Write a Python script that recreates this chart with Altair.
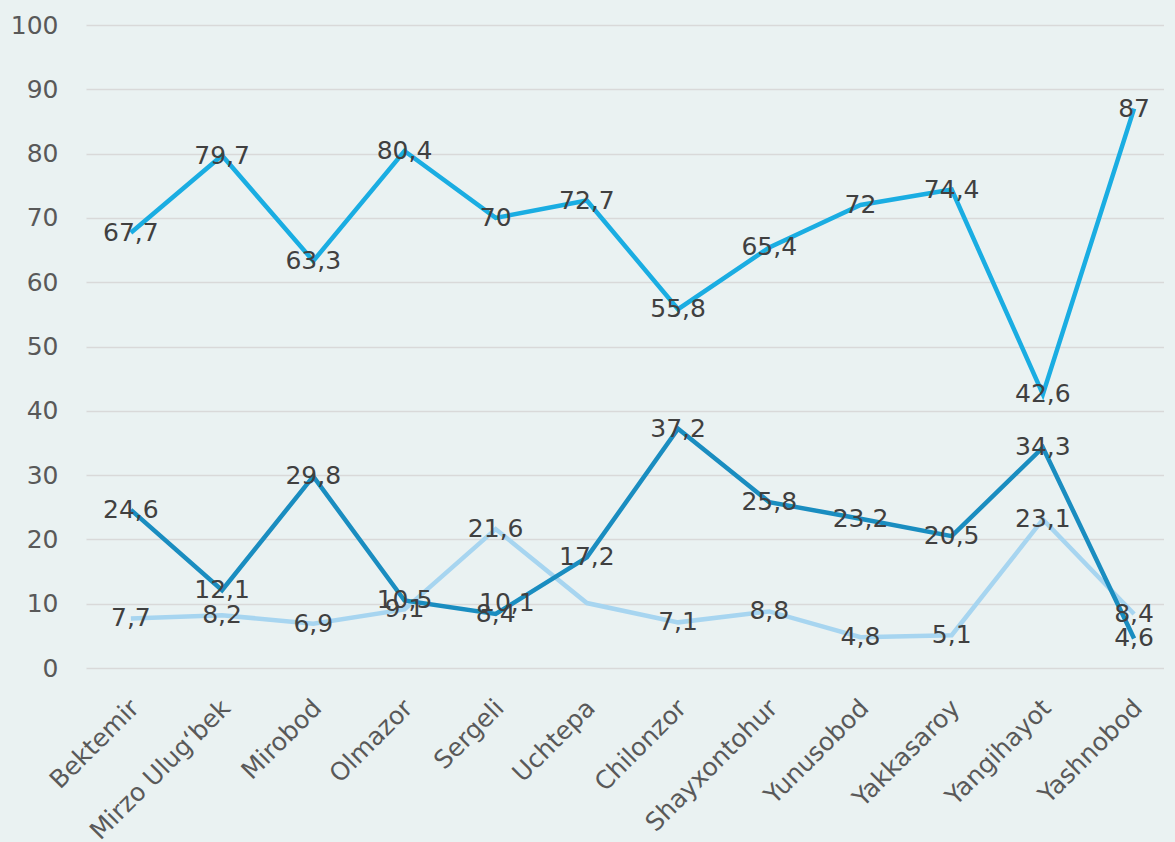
import altair as alt
import pandas as pd

districts = ["Bektemir", "Mirzo Ulug‘bek", "Mirobod", "Olmazor", "Sergeli", "Uchtepa",
             "Chilonzor", "Shayxontohur", "Yunusobod", "Yakkasaroy", "Yangihayot", "Yashnobod"]
series_a = [67.7, 79.7, 63.3, 80.4, 70, 72.7, 55.8, 65.4, 72, 74.4, 42.6, 87]
series_b = [24.6, 12.1, 29.8, 10.5, 8.4, 17.2, 37.2, 25.8, 23.2, 20.5, 34.3, 4.6]
series_c = [7.7, 8.2, 6.9, 9.1, 21.6, 10.1, 7.1, 8.8, 4.8, 5.1, 23.1, 8.4]
series_names = ["A", "C", "B"]
series_colors = ["#1AADE2", "#A7D5F0", "#1A8DC0"]

rows = []
for name, vals in (("A", series_a), ("C", series_c), ("B", series_b)):
    for i, (d, v) in enumerate(zip(districts, vals)):
        rows.append({"district": d, "series": name, "value": v, "idx": i})
df = pd.DataFrame(rows)

FONT = "DejaVu Sans"
bg = "#EAF2F2"

x = alt.X("district:N", sort=districts, title=None,
          scale=alt.Scale(type="point", padding=0.41, align=0.6),
          axis=alt.Axis(labelAngle=-45, labelFontSize=25, labelColor="#595959",
                        labelFont=FONT, ticks=False, domain=False, grid=False,
                        labelPadding=27, labelOffset=-5, labelOverlap=False,
                        labelLimit=400))
y = alt.Y("value:Q", title=None,
          scale=alt.Scale(domain=[0, 100], nice=False),
          axis=alt.Axis(values=list(range(0, 101, 10)), labelFontSize=25,
                        labelColor="#595959", labelFont=FONT, ticks=False,
                        domain=False, gridColor="#D9D9D9", gridWidth=1.5,
                        labelPadding=28))
color = alt.Color("series:N", scale=alt.Scale(domain=series_names, range=series_colors),
                  legend=None)

lines = alt.Chart(df).mark_line(strokeWidth=4.5).encode(
    x=x, y=y, color=color, order="idx:Q", detail="series:N"
)

labtxt = "replace(format(datum.value, '.1~f'), '.', ',')"
labels = alt.Chart(df).transform_filter(
    "!(datum.series == 'C' && datum.district == 'Uchtepa')"
).transform_calculate(txt=labtxt).mark_text(
    font=FONT, fontSize=25, color="#404040", baseline="middle", align="center"
).encode(x=x, y=y, text="txt:N")

moved = alt.Chart(df).transform_filter(
    "datum.series == 'C' && datum.district == 'Uchtepa'"
).transform_calculate(txt=labtxt).mark_text(
    font=FONT, fontSize=25, color="#404040", baseline="middle", align="center", dx=-80
).encode(x=x, y=y, text="txt:N")

chart = alt.layer(lines, labels, moved).properties(
    width=1078, height=643, background=bg,
    padding={"left": 2, "top": 5, "right": 0, "bottom": 0},
).configure_view(stroke=None)

chart.save("out.html", embed_options={"renderer": "svg", "actions": False})

with open("out.html", encoding="utf-8") as f:
    html = f.read()
css = "<style>html,body{background:" + bg + ";overflow:hidden;}</style>"
html = html.replace("<head>", "<head>" + css, 1)
with open("out.html", "w", encoding="utf-8") as f:
    f.write(html)
